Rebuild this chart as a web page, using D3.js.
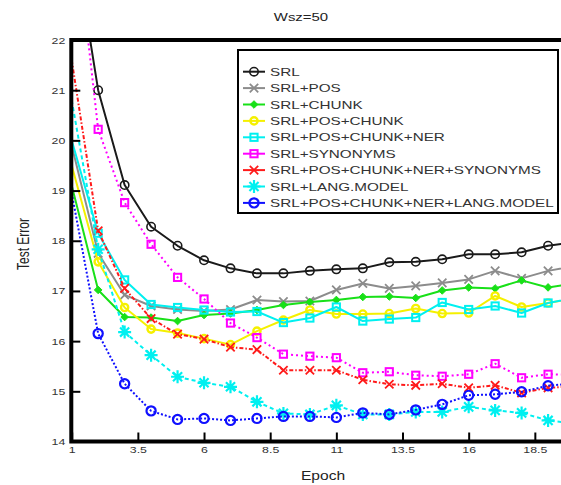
<!DOCTYPE html>
<html>
<head>
<meta charset="utf-8">
<script src="https://cdn.jsdelivr.net/npm/d3@7"></script>
<style>
  html, body { margin: 0; padding: 0; background: #fff; }
  svg { display: block; font-family: "Liberation Sans", Arial, sans-serif; }
</style>
</head>
<body>
<svg id="chart" width="561" height="485"></svg>
<script>
// Training curves: test error per epoch for each feature set (window size 50)
const epochs = [1,2,3,4,5,6,7,8,9,10,11,12,13,14,15,16,17,18,19,20];

const srl            = [24.3, 21.0, 19.11, 18.28, 17.90, 17.61, 17.45, 17.35, 17.35, 17.40, 17.43, 17.45, 17.57, 17.58, 17.63, 17.73, 17.73, 17.77, 17.90, 17.97];
const srlPos         = [19.9, 17.75, 16.92, 16.70, 16.63, 16.60, 16.63, 16.82, 16.79, 16.80, 17.02, 17.15, 17.05, 17.10, 17.16, 17.23, 17.40, 17.25, 17.40, 17.50];
const srlChunk       = [19.1, 17.02, 16.48, 16.47, 16.40, 16.52, 16.55, 16.62, 16.72, 16.78, 16.82, 16.88, 16.89, 16.86, 17.01, 17.07, 17.05, 17.21, 17.07, 17.15];
const srlPosChunk    = [19.5, 17.58, 16.67, 16.24, 16.16, 16.05, 15.93, 16.20, 16.42, 16.62, 16.54, 16.54, 16.55, 16.65, 16.55, 16.56, 16.90, 16.68, 16.76, 16.85];
const srlPosChunkNer = [20.0, 18.15, 17.22, 16.73, 16.67, 16.62, 16.58, 16.59, 16.37, 16.46, 16.68, 16.40, 16.44, 16.47, 16.77, 16.63, 16.70, 16.56, 16.76, 16.86];
const srlSyn         = [24.9, 20.22, 18.76, 17.93, 17.27, 16.84, 16.36, 16.07, 15.74, 15.70, 15.67, 15.37, 15.39, 15.32, 15.30, 15.34, 15.55, 15.27, 15.34, 15.33];
const srlAllSyn      = [21.6, 18.20, 17.05, 16.45, 16.14, 16.04, 15.88, 15.83, 15.42, 15.42, 15.42, 15.23, 15.14, 15.12, 15.15, 15.07, 15.12, 14.97, 15.07, 15.10];
const srlLm          = [20.8, 17.83, 16.18, 15.72, 15.29, 15.17, 15.09, 14.79, 14.56, 14.54, 14.72, 14.54, 14.54, 14.59, 14.59, 14.69, 14.62, 14.57, 14.42, 14.36];
const srlAllLm       = [18.95, 16.15, 15.15, 14.61, 14.44, 14.46, 14.42, 14.46, 14.50, 14.50, 14.48, 14.57, 14.54, 14.63, 14.74, 14.92, 14.94, 14.99, 15.11, 15.16];

const seriesNames = [
  "SRL", "SRL+POS", "SRL+CHUNK", "SRL+POS+CHUNK", "SRL+POS+CHUNK+NER",
  "SRL+SYNONYMS", "SRL+POS+CHUNK+NER+SYNONYMS", "SRL+LANG.MODEL",
  "SRL+POS+CHUNK+NER+LANG.MODEL"
];
const seriesValues = [srl, srlPos, srlChunk, srlPosChunk, srlPosChunkNer, srlSyn, srlAllSyn, srlLm, srlAllLm];

const xTicks = [1, 3.5, 6, 8.5, 11, 13.5, 16, 18.5];
const yTicks = [14, 15, 16, 17, 18, 19, 20, 21, 22];

// Drawing styles per series
const styles = [
  { color: "#1a1a1a", dash: null,        marker: "circle",  width: 2 },
  { color: "#8c8c8c", dash: null,        marker: "x",       width: 2 },
  { color: "#18e018", dash: null,        marker: "diamond", width: 2 },
  { color: "#f5f000", dash: null,        marker: "ring",    width: 2 },
  { color: "#00f0f0", dash: null,        marker: "square",  width: 2 },
  { color: "#ff00ff", dash: "2,3",       marker: "square",  width: 2 },
  { color: "#ff1a1a", dash: "4,2,1.5,2", marker: "x",       width: 2 },
  { color: "#00f0f0", dash: "4,3",       marker: "star",    width: 2 },
  { color: "#1010ff", dash: "2,2",       marker: "bluering",width: 2 }
];

(function () {
  const svg = d3.select("#chart");
  const SX = 1.3; // horizontal stretch applied to text

  const pLeft = 71.3, pTop = 40, pBottom = 441.5, pRight = 601;
  const x = d3.scaleLinear().domain([1, 21]).range([pLeft + 0.4, pRight]);
  const y = d3.scaleLinear().domain([14, 22]).range([pBottom, pTop]);

  function stretchedText(g, tx, ty, txt, opts) {
    const sx = opts.sx || SX;
    return g.append("text")
      .attr("transform", `translate(${tx},${ty}) scale(${sx},1)` + (opts.rotate ? ` rotate(${opts.rotate})` : ""))
      .attr("text-anchor", opts.anchor || "middle")
      .attr("font-size", opts.size)
      .attr("fill", opts.fill || "#222")
      .text(txt);
  }

  // Title and axis titles
  stretchedText(svg, 301, 21, "Wsz=50", { size: 11.5 });
  stretchedText(svg, 323, 480, "Epoch", { size: 12 });
  stretchedText(svg, 29, 244, "Test Error", { size: 12, rotate: -90 });

  // Clip region for the plot
  svg.append("defs").append("clipPath").attr("id", "plotClip")
    .append("rect").attr("x", pLeft).attr("y", pTop).attr("width", pRight - pLeft).attr("height", pBottom - pTop);

  const plot = svg.append("g").attr("clip-path", "url(#plotClip)");

  function markerPath(type, s) {
    switch (type) {
      case "x": return `M${-s},${-s}L${s},${s}M${-s},${s}L${s},${-s}`;
      case "star": return `M${-s},0L${s},0M0,${-s}L0,${s}M${-s*0.7},${-s*0.7}L${s*0.7},${s*0.7}M${-s*0.7},${s*0.7}L${s*0.7},${-s*0.7}`;
      case "diamond": return `M0,${-s}L${s},0L0,${s}L${-s},0Z`;
      default: return "";
    }
  }

  function drawMarker(g, type, color, cx, cy) {
    const m = g.append("g").attr("transform", `translate(${cx},${cy})`);
    if (type === "circle") {
      m.append("circle").attr("r", 4.2).attr("fill", "none").attr("stroke", color).attr("stroke-width", 1.6);
    } else if (type === "ring") {
      m.append("circle").attr("r", 3.6).attr("fill", "none").attr("stroke", color).attr("stroke-width", 2.4);
    } else if (type === "bluering") {
      m.append("circle").attr("r", 4.6).attr("fill", "none").attr("stroke", color).attr("stroke-width", 2.2);
    } else if (type === "square") {
      m.append("rect").attr("x", -3.6).attr("y", -3.6).attr("width", 7.2).attr("height", 7.2)
        .attr("fill", "none").attr("stroke", color).attr("stroke-width", 2);
    } else if (type === "diamond") {
      m.append("path").attr("d", markerPath("diamond", 3.8)).attr("fill", color).attr("stroke", color).attr("stroke-width", 1);
    } else if (type === "x") {
      m.append("path").attr("d", markerPath("x", 4.2)).attr("fill", "none").attr("stroke", color).attr("stroke-width", 1.8);
    } else if (type === "star") {
      m.append("path").attr("d", markerPath("star", 6.5)).attr("fill", "none").attr("stroke", color).attr("stroke-width", 2.2);
    }
  }

  const line = d3.line().x((d, i) => x(epochs[i])).y(d => y(d));

  seriesValues.forEach((vals, k) => {
    const st = styles[k];
    const g = plot.append("g");
    g.append("path").datum(vals)
      .attr("d", line)
      .attr("fill", "none")
      .attr("stroke", st.color)
      .attr("stroke-width", st.width)
      .attr("stroke-dasharray", st.dash)
      .attr("stroke-linejoin", "round");
    vals.forEach((v, i) => {
      if (i === 0) return; // first epoch sits on the axis without a marker
      drawMarker(g, st.marker, st.color, x(epochs[i]), y(v));
    });
  });

  // Axes with inward ticks
  const xAxis = d3.axisBottom(x).tickValues(xTicks).tickSize(-9).tickPadding(5)
    .tickFormat(d => d3.format("")(d));
  const yAxis = d3.axisLeft(y).tickValues(yTicks).tickSize(-9).tickPadding(6);

  const gx = svg.append("g").attr("transform", `translate(0,${pBottom})`).call(xAxis);
  const gy = svg.append("g").attr("transform", `translate(${pLeft},0)`).call(yAxis);
  [gx, gy].forEach(g => {
    g.select(".domain").remove();
    g.selectAll(".tick line").attr("stroke", "#000").attr("stroke-width", 2);
    g.selectAll(".tick text").attr("font-size", 9.5).attr("fill", "#333")
      .attr("font-family", "Liberation Sans, Arial, sans-serif");
  });
  // horizontal stretch on tick labels
  gx.selectAll(".tick text").attr("transform", `scale(${SX},1)`).attr("x", 0);
  gy.selectAll(".tick text").each(function () {
    const t = d3.select(this);
    const xx = +t.attr("x");
    t.attr("x", xx / SX).attr("transform", `scale(${SX},1)`);
  });

  // Frame
  svg.append("path")
    .attr("d", `M${pRight},${pTop}L${pLeft},${pTop}L${pLeft},${pBottom}L${pRight},${pBottom}`)
    .attr("fill", "none").attr("stroke", "#000").attr("stroke-width", 4).attr("stroke-linejoin", "miter");

  // Legend
  const legend = svg.append("g");
  legend.append("rect").attr("x", 238).attr("y", 50).attr("width", 320).attr("height", 163)
    .attr("fill", "#fff").attr("stroke", "#000").attr("stroke-width", 2);
  seriesNames.forEach((name, k) => {
    const st = styles[k];
    const cy = 71.7 + k * 16.4;
    legend.append("line").attr("x1", 243).attr("x2", 265).attr("y1", cy).attr("y2", cy)
      .attr("stroke", st.color).attr("stroke-width", st.width);
    drawMarker(legend, st.marker, st.color, 254, cy);
    stretchedText(legend, 270, cy + 4, name, { size: 11.3, anchor: "start", fill: "#333", sx: 1.35 });
  });
})();
</script>
</body>
</html>
